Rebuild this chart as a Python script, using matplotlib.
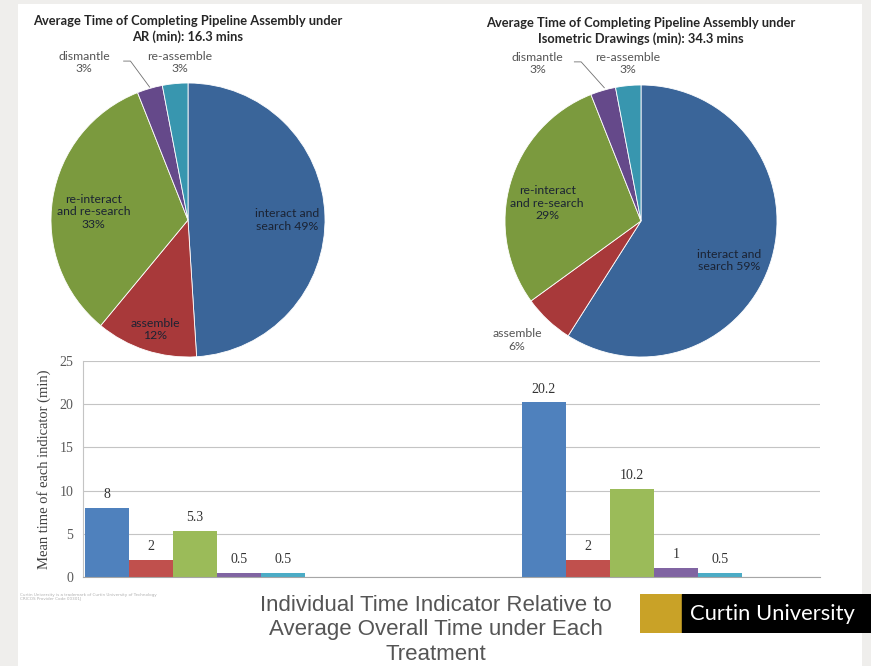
import numpy as np
import matplotlib
matplotlib.use("Agg")
import matplotlib.pyplot as plt
from matplotlib.patches import Rectangle

# data
indicators = ['interact and search', 'assemble', 're-interact and re-search', 'dismantle', 're-assemble']
treatments = ['AR', 'Isometric Drawings']
ar_pct = [49, 12, 33, 3, 3]
iso_pct = [59, 6, 29, 3, 3]
ar_min = [8, 2, 5.3, 0.5, 0.5]
iso_min = [20.2, 2, 10.2, 1, 0.5]
ar_labels = ['interact and\nsearch 49%', 'assemble\n12%', 're-interact\nand re-search\n33%', 'dismantle\n3%', 're-assemble\n3%']
iso_labels = ['interact and\nsearch 59%', 'assemble\n6%', 're-interact\nand re-search\n29%', 'dismantle\n3%', 're-assemble\n3%']
ar_title = 'Average Time of Completing Pipeline Assembly under\nAR (min): 16.3 mins'
iso_title = 'Average Time of Completing Pipeline Assembly under\nIsometric Drawings (min): 34.3 mins'

pie_colors = ['#3A6599', '#A8393A', '#7B9A3E', '#65498A', '#3896AF']
bar_colors = ['#4F81BD', '#C0504D', '#9BBB59', '#8064A2', '#4BACC6']

W, H = 871, 666
fig = plt.figure(figsize=(W / 100, H / 100), dpi=100)
fig.patch.set_facecolor('#EFEEEC')


def px_axes(x, y, w, h, **kw):
    # pixel box (top-left origin) -> figure axes
    return fig.add_axes([x / W, 1 - (y + h) / H, w / W, h / H], **kw)


bg = px_axes(18, 4, 844, 662)
bg.add_patch(Rectangle((0, 0), 1, 1, color='white', transform=bg.transAxes))
bg.axis('off')

label_font = ['Lato', 'DejaVu Sans']
serif = ['Liberation Serif', 'DejaVu Serif']


def draw_pie(cx, cy, r, pct, labels, title, lpos, leader):
    ax = px_axes(cx - r, cy - r, 2 * r, 2 * r)
    ax.pie(pct, colors=pie_colors, startangle=90, counterclock=False,
           wedgeprops=dict(linewidth=0.6, edgecolor='white'))
    ax.set_xlim(-1, 1)
    ax.set_ylim(-1, 1)
    ax.set_aspect('equal')
    ax.axis('off')
    for i, (lab, (lx, ly)) in enumerate(zip(labels, lpos)):
        inside = lx ** 2 + ly ** 2 < 0.95
        ax.text(lx, ly, lab, ha='center', va='center', fontsize=8.8,
                family=label_font, color='#1b2333' if inside else '#555555',
                clip_on=False, linespacing=1.15)
    ax.plot(leader[0], leader[1], color='#707070', lw=0.6, clip_on=False)
    ax.text(0, 1.295, title, ha='center', va='bottom', fontsize=9.3,
            fontweight='bold', family=label_font, color='#262626',
            linespacing=1.3, clip_on=False)


draw_pie(188, 220, 137, ar_pct, ar_labels, ar_title,
         [(0.72, 0.0), (-0.24, -0.80), (-0.69, 0.06), (-0.76, 1.15), (-0.06, 1.15)],
         ([-0.47, -0.42, -0.28], [1.16, 1.16, 0.97]))
draw_pie(641, 221, 136, iso_pct, iso_labels, iso_title,
         [(0.65, -0.29), (-0.91, -0.875), (-0.69, 0.13), (-0.76, 1.16), (-0.10, 1.16)],
         ([-0.49, -0.44, -0.27], [1.17, 1.17, 0.98]))

# bar chart
bx = px_axes(83, 361, 737, 216)
bx.patch.set_alpha(0)
w = 0.1007
centers = np.array([0.0, 1.0])
for i in range(len(indicators)):
    vals = [ar_min[i], iso_min[i]]
    xs = centers + (i - 2) * w
    bars = bx.bar(xs, vals, width=w, color=bar_colors[i], linewidth=0)
    for b, v in zip(bars, vals):
        bx.text(b.get_x() + b.get_width() / 2, v + 0.8, f'{v:g}', ha='center',
                va='bottom', fontsize=10, family=serif, color='#333333')
bx.set_xlim(-0.256, 1.43)
bx.set_ylim(0, 25)
bx.set_yticks([0, 5, 10, 15, 20, 25])
bx.set_xticks([])
bx.grid(axis='y', color='#c4c4c4', lw=0.8)
bx.set_axisbelow(True)
for s in ['top', 'right']:
    bx.spines[s].set_visible(False)
bx.spines['left'].set_color('#c4c4c4')
bx.spines['bottom'].set_color('#a6a6a6')
bx.tick_params(axis='y', length=0, pad=7, labelsize=10, labelcolor='#595959')
for t in bx.get_yticklabels():
    t.set_family(serif)
bx.set_ylabel('Mean time of each indicator (min)', fontsize=10.5,
              family=serif, color='#404040', labelpad=6)

# bottom caption
fig.text(436 / W, 1 - 630 / H,
         'Individual Time Indicator Relative to\nAverage Overall Time under Each\nTreatment',
         ha='center', va='center', fontsize=16, color='#555555',
         family=['Liberation Sans', 'DejaVu Sans'], linespacing=1.22)

fig.text(20 / W, 1 - 597 / H,
         'Curtin University is a trademark of Curtin University of Technology\nCRICOS Provider Code 00301J',
         ha='left', va='center', fontsize=3, color='#b0b0b0')

# logo block
lg = px_axes(640, 594, 231, 39)
lg.set_xlim(0, 231)
lg.set_ylim(0, 39)
lg.axis('off')
lg.add_patch(Rectangle((0, 0), 42, 39, color='#C9A227'))
lg.add_patch(Rectangle((42, 0), 189, 39, color='black'))
lg.text(50, 19.5, 'Curtin University', ha='left', va='center', fontsize=15.8,
        color='white', family=label_font)

fig.savefig('out.png', dpi=100)
